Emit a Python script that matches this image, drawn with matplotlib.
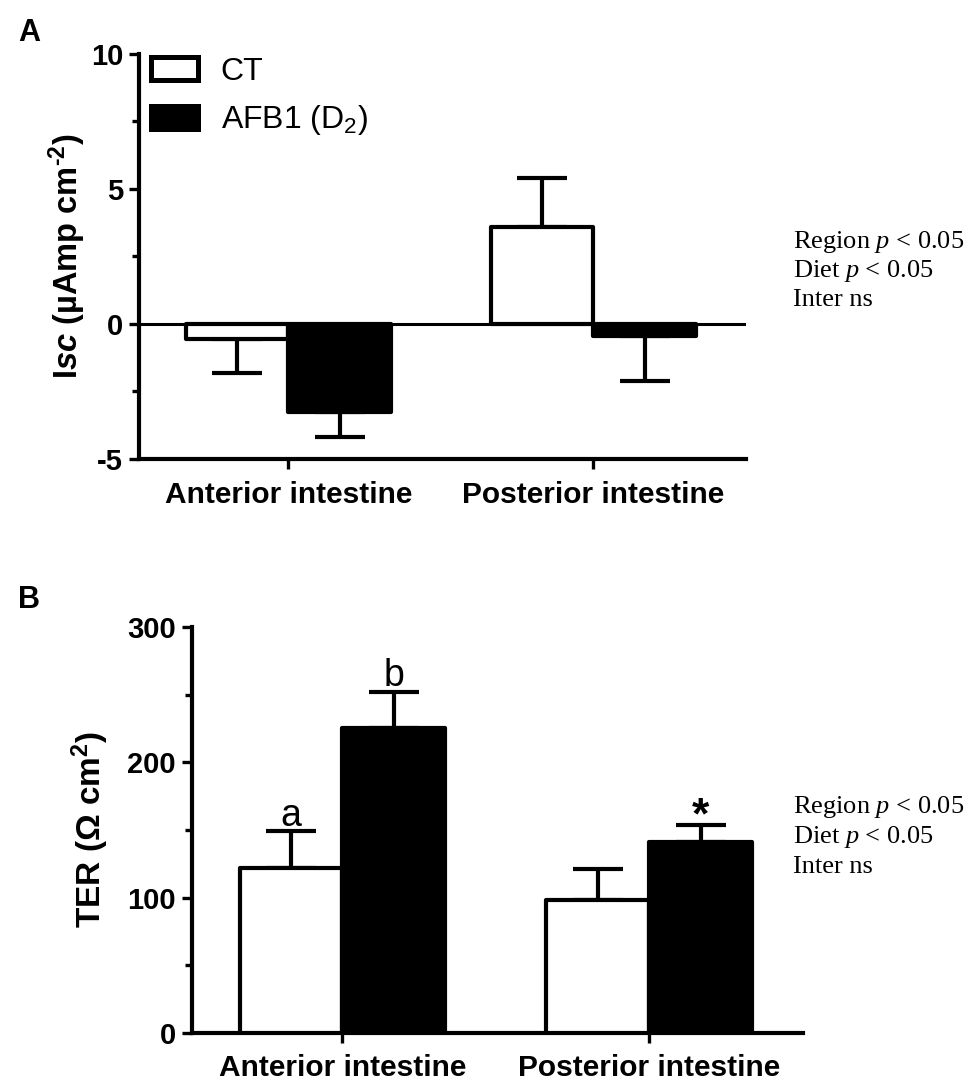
import matplotlib
matplotlib.use("Agg")
import matplotlib.pyplot as plt
from matplotlib.patches import Patch
import numpy as np

# ---- data ----
regions = ["Anterior intestine", "Posterior intestine"]
groups = ["CT", "AFB1 (D$_2$)"]

isc_ct = [-0.55, 3.6]
isc_ct_err = [1.25, 1.8]
isc_afb = [-3.25, -0.45]
isc_afb_err = [0.95, 1.65]

ter_ct = [122, 98]
ter_ct_err = [27, 23]
ter_afb = [225, 141]
ter_afb_err = [27, 13]

ter_letters = [("a", 0, 0), ("b", 1, 0), ("*", 1, 1)]  # (text, group, region)

stats_text = ["Region $\\mathit{p}$ < 0.05", "Diet $\\mathit{p}$ < 0.05", "Inter ns"]

plt.rcParams["font.family"] = ["Liberation Sans", "DejaVu Sans"]
plt.rcParams["axes.unicode_minus"] = False
plt.rcParams["mathtext.fontset"] = "custom"
plt.rcParams["mathtext.rm"] = "Liberation Sans:bold"
plt.rcParams["mathtext.bf"] = "Liberation Sans:bold"
plt.rcParams["mathtext.sf"] = "Liberation Sans:italic:bold"
plt.rcParams["mathtext.it"] = "Liberation Serif:italic"
plt.rcParams["mathtext.default"] = "regular"

LW = 3.0
W = 0.335


def one_sided(vals, errs):
    vals = np.asarray(vals, float)
    errs = np.asarray(errs, float)
    lo = np.where(vals < 0, errs, 0)
    hi = np.where(vals >= 0, errs, 0)
    return [lo, hi]


def style_axes(ax):
    for s in ["top", "right"]:
        ax.spines[s].set_visible(False)
    for s in ["left", "bottom"]:
        ax.spines[s].set_linewidth(LW)
    ax.tick_params(axis="y", which="major", length=7.5, width=2.4, pad=4, labelsize=21)
    ax.tick_params(axis="y", which="minor", length=5, width=2.4)
    ax.tick_params(axis="x", length=7.5, width=2.4, pad=8, labelsize=21.5)
    for lab in ax.get_xticklabels() + ax.get_yticklabels():
        lab.set_fontweight("bold")


def draw_bars(ax, ct, ct_err, afb, afb_err):
    x = np.arange(len(regions))
    ax.bar(x - W / 2, ct, W, color="white", edgecolor="black", linewidth=LW,
           joinstyle="round", zorder=3)
    ax.bar(x + W / 2, afb, W, color="black", edgecolor="black", linewidth=LW,
           joinstyle="round", zorder=4)
    ax.errorbar(x - W / 2, ct, yerr=one_sided(ct, ct_err), fmt="none",
                ecolor="black", elinewidth=LW, capsize=18, capthick=LW, zorder=2)
    ax.errorbar(x + W / 2, afb, yerr=one_sided(afb, afb_err), fmt="none",
                ecolor="black", elinewidth=LW, capsize=18, capthick=LW, zorder=2)
    ax.set_xticks(x)
    ax.set_xticklabels(regions)
    ax.set_xlim(-0.49, 1.5)


fig = plt.figure(figsize=(9.71, 10.83), dpi=100)

# ---- panel A ----
axA = fig.add_axes([0.1432, 0.5762, 0.625, 0.3740])
draw_bars(axA, isc_ct, isc_ct_err, isc_afb, isc_afb_err)
axA.axhline(0, color="black", lw=2.2, zorder=1)
axA.set_ylim(-5, 10)
axA.set_yticks([-5, 0, 5, 10])
axA.set_yticks([-2.5, 2.5, 7.5], minor=True)
style_axes(axA)
axA.set_ylabel("I$\\mathsf{sc}$ (µAmp cm$^{\\text{-}2}$)", fontsize=23.5, fontweight="bold", labelpad=2)

handles = [Patch(facecolor="white", edgecolor="black", linewidth=LW + 0.6, joinstyle="round"),
           Patch(facecolor="black", edgecolor="black", linewidth=LW + 0.6, joinstyle="round")]
axA.legend(handles, groups, loc="upper left", bbox_to_anchor=(0.02, 0.993), frameon=False,
           fontsize=23, handlelength=1.45, handleheight=0.72, handletextpad=0.72,
           labelspacing=0.52, borderpad=0, borderaxespad=0)

for i, t in enumerate(stats_text):
    fig.text(793 / 971, 1 - (242 + 29 * i) / 1083, t, fontsize=19,
             family="Liberation Serif", va="center", ha="left")

fig.text(29 / 971, 1 - 33 / 1083, "A", fontsize=22, fontweight="bold", ha="center", va="center")

# ---- panel B ----
axB = fig.add_axes([0.1977, 0.0462, 0.629, 0.3749])
draw_bars(axB, ter_ct, ter_ct_err, ter_afb, ter_afb_err)
axB.set_ylim(0, 300)
axB.set_yticks([0, 100, 200, 300])
axB.set_yticks([50, 150, 250], minor=True)
style_axes(axB)
axB.set_ylabel("TER (Ω cm$^{2}$)", fontsize=24, fontweight="bold", labelpad=12)

means = [ter_ct, ter_afb]
errs = [ter_ct_err, ter_afb_err]
for txt, g, r in ter_letters:
    xpos = r + (W / 2 if g == 1 else -W / 2)
    top = means[g][r] + errs[g][r]
    if txt == "*":
        axB.annotate(txt, (xpos, top), xytext=(0, -3), textcoords="offset points",
                     ha="center", va="baseline", fontsize=32, fontweight="bold")
    else:
        axB.annotate(txt, (xpos, top), xytext=(0, 4), textcoords="offset points",
                     ha="center", va="baseline", fontsize=27)

for i, t in enumerate(stats_text):
    fig.text(793 / 971, 1 - (807 + 30 * i) / 1083, t, fontsize=19,
             family="Liberation Serif", va="center", ha="left")

fig.text(29 / 971, 1 - 600 / 1083, "B", fontsize=22, fontweight="bold", ha="center", va="center")

fig.savefig("out.png", dpi=100)
